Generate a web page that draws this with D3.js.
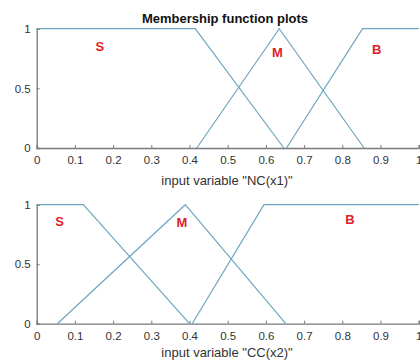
<!DOCTYPE html>
<html>
<head>
<meta charset="utf-8">
<script src="https://cdn.jsdelivr.net/npm/d3@7"></script>
<style>
body { margin: 0; background: #fff; }
svg { display: block; font-family: Arial, "Liberation Sans", sans-serif; }
</style>
</head>
<body>
<svg id="chart" width="420" height="360"></svg>
<script>
// DATA: membership functions as [x, mu] breakpoints
var xTicks = [0, 0.1, 0.2, 0.3, 0.4, 0.5, 0.6, 0.7, 0.8, 0.9, 1];
var yTicks = [0, 0.5, 1];

var nc_S = [[0, 1], [0.415, 1], [0.647, 0]];
var nc_M = [[0.419, 0], [0.635, 1], [0.857, 0]];
var nc_B = [[0.654, 0], [0.853, 1], [1, 1]];

var cc_S = [[0, 1], [0.122, 1], [0.40, 0]];
var cc_M = [[0.054, 0], [0.389, 1], [0.652, 0]];
var cc_B = [[0.407, 0], [0.595, 1], [1, 1]];

var nc_labels = [{t: "S", x: 0.165, y: 0.84}, {t: "M", x: 0.63, y: 0.79}, {t: "B", x: 0.89, y: 0.82}];
var cc_labels = [{t: "S", x: 0.06, y: 0.85}, {t: "M", x: 0.38, y: 0.84}, {t: "B", x: 0.82, y: 0.87}];

var svg = d3.select('#chart');
var lineCol = '#6ea6c2';
var axisCol = '#7a7a7a';

svg.append('text')
    .attr('x', 225).attr('y', 23)
    .attr('text-anchor', 'middle')
    .style('font-weight', 'bold')
    .style('font-size', '13px')
    .style('fill', '#111')
    .text('Membership function plots');

// DRAW ONE PANEL
function panel(top, bottom, series, labels, xlabel, labelY)
{
    var x = d3.scaleLinear().domain([0, 1]).range([36.7, 418.7]);
    var y = d3.scaleLinear().domain([0, 1]).range([bottom, top]);
    var g = svg.append('g');

    var line = d3.line().x(function(d) { return x(d[0]); }).y(function(d) { return y(d[1]); });

    // axes
    var xa = g.append('g').attr('transform', 'translate(0,' + bottom + ')')
        .call(d3.axisBottom(x).tickValues(xTicks).tickSize(-3).tickPadding(8).tickFormat(d3.format('')));
    var ya = g.append('g').attr('transform', 'translate(36.7,0)')
        .call(d3.axisLeft(y).tickValues(yTicks).tickSize(-3).tickPadding(6).tickFormat(d3.format('')));
    [xa, ya].forEach(function(a) {
        a.select('.domain').attr('stroke', axisCol).attr('stroke-width', 1.3);
        a.selectAll('.tick line').attr('stroke', axisCol);
        a.selectAll('.tick text').style('font-size', '11.5px').style('fill', '#333').style('font-family', 'Arial, "Liberation Sans", sans-serif');
    });

    series.forEach(function(s) {
        g.append('path')
            .attr('d', line(s))
            .attr('fill', 'none')
            .attr('stroke', lineCol)
            .attr('stroke-width', 1.2);
    });

    g.selectAll('text.lab')
        .data(labels)
        .enter().append('text')
        .attr('class', 'lab')
        .attr('x', function(d) { return x(d.x); })
        .attr('y', function(d) { return y(d.y); })
        .attr('text-anchor', 'middle')
        .attr('dominant-baseline', 'middle')
        .style('fill', '#e0202a')
        .style('font-weight', 'bold')
        .style('font-size', '13px')
        .text(function(d) { return d.t; });

    g.append('text')
        .attr('x', 227).attr('y', labelY)
        .attr('text-anchor', 'middle')
        .style('font-size', '13px')
        .style('fill', '#333')
        .text(xlabel);
}

panel(28.7, 148, [nc_S, nc_M, nc_B], nc_labels, 'input variable "NC(x1)"', 184.5);
panel(204.7, 323.7, [cc_S, cc_M, cc_B], cc_labels, 'input variable "CC(x2)"', 357);
</script>
</body>
</html>
